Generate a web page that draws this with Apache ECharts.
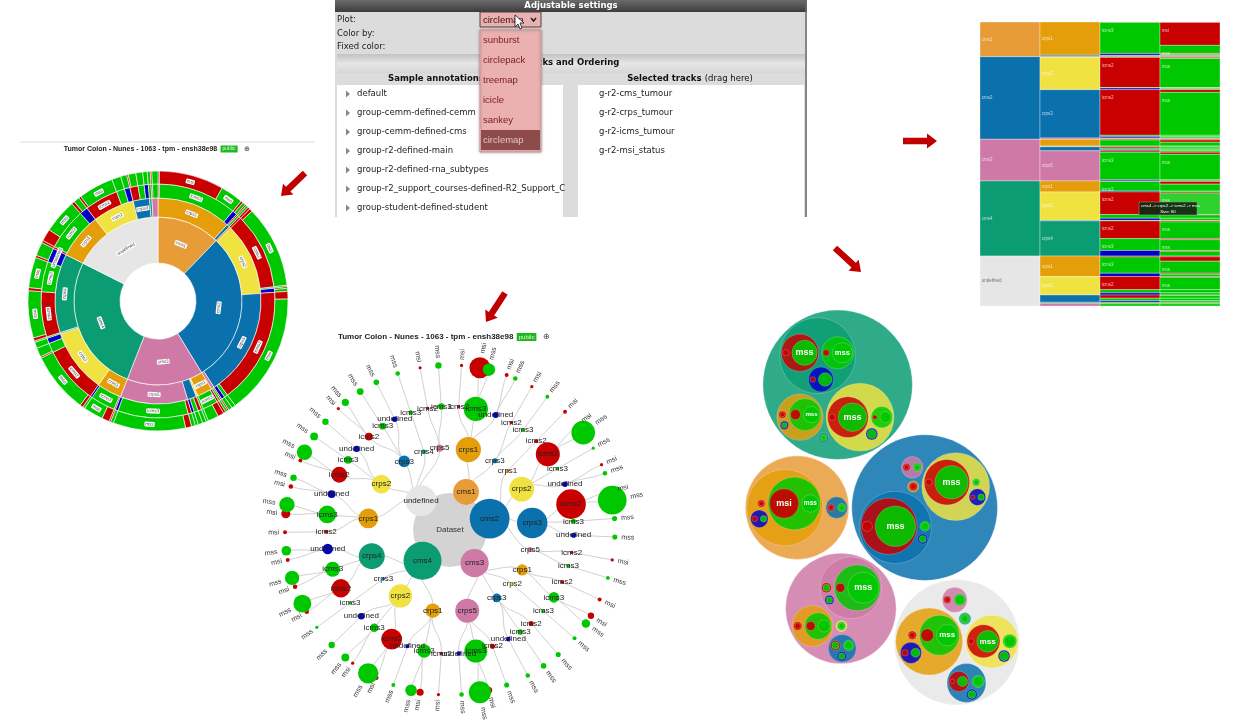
<!DOCTYPE html>
<html>
<head>
<meta charset="utf-8">
<script src="https://cdn.jsdelivr.net/npm/echarts@6/dist/echarts.min.js"></script>
<style>
  html, body { margin: 0; padding: 0; background: #fff; }
  #chart { width: 1254px; height: 727px; }
</style>
</head>
<body>
<div id="chart"></div>
<script>
/* 同一数据集的四种层级图 + 设置面板 */

// ---- data ----
var levelNames = ['cms', 'crps', 'icms', 'msi'];

var leafPaths = [
  'cms1/crps1/icms3/msi', 'cms1/crps1/icms3/mss', 'cms1/crps1/undefined/msi', 'cms1/crps1/undefined/mss',
  'cms1/crps1/icms2/msi', 'cms1/crps3/icms3/mss', 'cms1/crps3/icms2/msi',
  'cms2/crps2/icms2/mss', 'cms2/crps2/icms2/msi', 'cms2/crps2/undefined/mss', 'cms2/crps2/undefined/msi',
  'cms2/crps2/icms3/mss', 'cms2/crps3/icms2/mss', 'cms2/crps3/icms2/msi', 'cms2/crps3/icms3/mss',
  'cms2/crps3/undefined/mss', 'cms2/crps5/icms3/mss', 'cms2/crps5/icms2/msi', 'cms2/crps1/icms2/msi',
  'cms3/crps1/icms3/msi', 'cms3/crps1/icms3/mss', 'cms3/crps1/icms2/msi', 'cms3/crps3/icms2/mss',
  'cms3/crps3/icms3/mss', 'cms3/crps3/undefined/mss', 'cms3/crps5/icms3/mss', 'cms3/crps5/icms3/msi',
  'cms3/crps5/undefined/mss', 'cms3/crps5/icms2/mss', 'cms3/crps2/icms3/mss',
  'cms4/crps1/icms3/msi', 'cms4/crps1/icms3/mss', 'cms4/crps1/undefined/mss', 'cms4/crps1/icms2/msi',
  'cms4/crps2/icms2/mss', 'cms4/crps2/icms2/msi', 'cms4/crps2/icms3/mss', 'cms4/crps2/icms3/msi',
  'cms4/crps2/undefined/mss', 'cms4/crps4/icms2/mss', 'cms4/crps4/icms2/msi', 'cms4/crps4/icms3/mss',
  'cms4/crps4/icms3/msi', 'cms4/crps4/undefined/mss', 'cms4/crps4/undefined/msi', 'cms4/crps3/icms3/mss',
  'undefined/crps1/icms3/msi', 'undefined/crps1/icms3/mss', 'undefined/crps1/undefined/msi',
  'undefined/crps1/undefined/mss', 'undefined/crps1/icms2/msi', 'undefined/crps2/icms2/mss',
  'undefined/crps2/icms2/msi', 'undefined/crps2/icms3/mss', 'undefined/crps2/undefined/mss',
  'undefined/crps3/icms2/mss', 'undefined/crps3/icms2/msi', 'undefined/crps3/icms3/mss',
  'undefined/crps3/undefined/mss', 'undefined/crps5/icms3/mss', 'undefined/crps5/icms2/msi',
  'undefined/crps4/icms3/mss'
];
var leafCounts = [
  85, 30, 3, 4, 2, 3, 2,
  108, 4, 4, 2, 2, 160, 10, 5, 5, 3, 2, 3,
  8, 14, 3, 5, 6, 4, 95, 8, 4, 5, 3,
  10, 26, 3, 2, 80, 4, 12, 2, 8, 62, 4, 40, 4, 18, 3, 2,
  16, 45, 4, 8, 3, 46, 3, 12, 8, 10, 2, 9, 6, 8, 2, 4
];
var hoverPath = 'cms4/crps2/icms2/mss';

var plotTypes = ['sunburst', 'circlepack', 'treemap', 'icicle', 'sankey', 'circlemap'];
var annotationGroups = ['default', 'group-cemm-defined-cemm', 'group-cemm-defined-cms', 'group-r2-defined-main',
  'group-r2-defined-rna_subtypes', 'group-r2_support_courses-defined-R2_Support_C', 'group-student-defined-student'];
var selectedTracks = ['g-r2-cms_tumour', 'g-r2-crps_tumour', 'g-r2-icms_tumour', 'g-r2-msi_status'];
var titleText = 'Tumor Colon - Nunes - 1063 - tpm - ensh38e98';

var levelColors = [
  { cms1: '#E89C38', cms2: '#0A71AD', cms3: '#CE79A6', cms4: '#0C9C74', 'undefined': '#E6E6E6' },
  { crps1: '#E49E0A', crps2: '#EFE241', crps3: '#0A71AD', crps4: '#0C9C74', crps5: '#CE79A6' },
  { icms2: '#C80000', icms3: '#00C800', 'undefined': '#0000C8' },
  { msi: '#C80000', mss: '#00C800' }
];

// ---- hierarchy ----
function buildTree() {
  var root = { name: 'Dataset', value: 0, depth: 0, path: '', children: [] };
  for (var i = 0; i < leafPaths.length; i++) {
    var parts = leafPaths[i].split('/');
    var node = root;
    root.value += leafCounts[i];
    for (var d = 0; d < parts.length; d++) {
      var ch = null;
      for (var k = 0; k < node.children.length; k++) {
        if (node.children[k].name === parts[d]) ch = node.children[k];
      }
      if (!ch) {
        ch = { name: parts[d], value: 0, depth: d + 1, path: parts.slice(0, d + 1).join('/'), children: [] };
        node.children.push(ch);
      }
      ch.value += leafCounts[i];
      node = ch;
    }
  }
  // 按名称排序
  (function sortKids(n) {
    n.children.sort(function (a, b) { return a.name < b.name ? -1 : a.name > b.name ? 1 : 0; });
    n.children.forEach(sortKids);
  })(root);
  return root;
}
var root = buildTree();
function colorOf(n) { return n.depth === 0 ? '#D3D3D3' : levelColors[n.depth - 1][n.name]; }

function hexA(hex, a) {
  var v = parseInt(hex.slice(1), 16);
  return 'rgba(' + (v >> 16) + ',' + ((v >> 8) & 255) + ',' + (v & 255) + ',' + a + ')';
}

// sunburst
function toSun(n) {
  var o = { name: n.name, value: n.value, itemStyle: { color: colorOf(n) } };
  if (n.children.length) o.children = n.children.map(toSun);
  return o;
}
var sunData = root.children.map(toSun);

// radial tree
function toTree(n) {
  var o = {
    name: n.name, value: n.value,
    symbolSize: Math.max(3, 2.27 * Math.sqrt(n.value)),
    itemStyle: { color: colorOf(n), borderWidth: 0 }
  };
  if (n.children.length) {
    o.children = n.children.map(toTree);
    o.label = { position: 'inside', rotate: 0, fontSize: 8, color: '#222' };
  }
  return o;
}
var treeRoot = toTree(root);
treeRoot.label = { position: 'inside', rotate: 0, fontSize: 8, color: '#333' };

// icicle partition
var icicleItems = [];
var hoverSize = 0;
function partition(n, start) {
  var s = start;
  n.children.forEach(function (c) {
    var hov = c.path === hoverPath;
    if (hov) hoverSize = c.value;
    icicleItems.push({
      name: c.name,
      value: [c.depth - 1, s, s + c.value],
      itemStyle: { color: hov ? '#2ED12E' : colorOf(c) }
    });
    partition(c, s);
    s += c.value;
  });
}
partition(root, 0);

// circle packing (front-chain sibling packing)
var PAD = 0.9;
function place(b, a, c) {
  var dx = b.x - a.x, dy = b.y - a.y, d2 = dx * dx + dy * dy, x, y, a2, b2;
  if (d2) {
    a2 = a.r + c.r; a2 *= a2;
    b2 = b.r + c.r; b2 *= b2;
    if (a2 > b2) {
      x = (d2 + b2 - a2) / (2 * d2);
      y = Math.sqrt(Math.max(0, b2 / d2 - x * x));
      c.x = b.x - x * dx - y * dy;
      c.y = b.y - x * dy + y * dx;
    } else {
      x = (d2 + a2 - b2) / (2 * d2);
      y = Math.sqrt(Math.max(0, a2 / d2 - x * x));
      c.x = a.x + x * dx - y * dy;
      c.y = a.y + x * dy + y * dx;
    }
  } else {
    c.x = a.x + c.r; c.y = a.y;
  }
}
function intersects(a, b) {
  var dr = a.r + b.r - 1e-6, dx = b.x - a.x, dy = b.y - a.y;
  return dr > 0 && dr * dr > dx * dx + dy * dy;
}
function score(node) {
  var a = node._, b = node.next._, ab = a.r + b.r;
  var dx = (a.x * b.r + b.x * a.r) / ab, dy = (a.y * b.r + b.y * a.r) / ab;
  return dx * dx + dy * dy;
}
function placeSiblings(cs) {
  var n = cs.length, a, b, c, i, j, k, sj, sk, aa, ca;
  a = cs[0]; a.x = 0; a.y = 0;
  if (n < 2) return;
  b = cs[1]; a.x = -b.r; b.x = a.r; b.y = 0;
  if (n < 3) return;
  place(b, a, c = cs[2]);
  a = { _: a }; b = { _: b }; c = { _: c };
  a.next = c.previous = b;
  b.next = a.previous = c;
  c.next = b.previous = a;
  pack: for (i = 3; i < n; ++i) {
    place(a._, b._, c = cs[i]); c = { _: c };
    j = b.next; k = a.previous; sj = b._.r; sk = a._.r;
    do {
      if (sj <= sk) {
        if (intersects(j._, c._)) { b = j; a.next = b; b.previous = a; --i; continue pack; }
        sj += j._.r; j = j.next;
      } else {
        if (intersects(k._, c._)) { a = k; a.next = b; b.previous = a; --i; continue pack; }
        sk += k._.r; k = k.previous;
      }
    } while (j !== k.next);
    c.previous = a; c.next = b; a.next = b.previous = b = c;
    aa = score(a);
    while ((c = c.next) !== b) {
      if ((ca = score(c)) < aa) { a = c; aa = ca; }
    }
    b = a.next;
  }
}
function enclose(cs) {
  var minx = Infinity, maxx = -Infinity, miny = Infinity, maxy = -Infinity;
  cs.forEach(function (c) {
    minx = Math.min(minx, c.x - c.r); maxx = Math.max(maxx, c.x + c.r);
    miny = Math.min(miny, c.y - c.r); maxy = Math.max(maxy, c.y + c.r);
  });
  var cx = (minx + maxx) / 2, cy = (miny + maxy) / 2;
  var bx = cx, by = cy, bR = Infinity;
  for (var k = 0; k < 400; k++) {
    var far = null, fd = -1;
    cs.forEach(function (c) {
      var dd = Math.hypot(c.x - cx, c.y - cy) + c.r;
      if (dd > fd) { fd = dd; far = c; }
    });
    if (fd < bR) { bR = fd; bx = cx; by = cy; }
    var ld = Math.hypot(far.x - cx, far.y - cy) || 1;
    var fx = far.x + (far.x - cx) / ld * far.r, fy = far.y + (far.y - cy) / ld * far.r;
    cx += (fx - cx) / (k + 2); cy += (fy - cy) / (k + 2);
  }
  return { x: bx, y: by, r: bR };
}
function pack(n) {
  if (!n.children.length) { n.r = Math.sqrt(n.value); return; }
  n.children.forEach(pack);
  var cs = n.children.map(function (c) { return { r: c.r + PAD, node: c }; });
  placeSiblings(cs);
  var e = enclose(cs);
  cs.forEach(function (c) { c.node.dx = c.x - e.x; c.node.dy = c.y - e.y; });
  n.r = e.r;
}
pack(root);
var packItems = [];
function absPos(n, x, y) {
  n.children.forEach(function (c) {
    var cx = x + c.dx, cy = y + c.dy;
    packItems.push({ name: c.name, depth: c.depth, leaf: !c.children.length, color: colorOf(c), value: [cx, cy, c.r] });
    absPos(c, cx, cy);
  });
}
absPos(root, 0, 0);

// fit packed layout in its box with equal aspect
var PACK_BOX = { left: 735, top: 310, width: 295, height: 395 };
var bx0 = Infinity, bx1 = -Infinity, by0 = Infinity, by1 = -Infinity;
packItems.forEach(function (p) {
  if (p.depth !== 1) return;
  bx0 = Math.min(bx0, p.value[0] - p.value[2]); bx1 = Math.max(bx1, p.value[0] + p.value[2]);
  by0 = Math.min(by0, p.value[1] - p.value[2]); by1 = Math.max(by1, p.value[1] + p.value[2]);
});
var pScale = Math.min(PACK_BOX.width / (bx1 - bx0), PACK_BOX.height / (by1 - by0));
var pxr = PACK_BOX.width / pScale / 2, pyr = PACK_BOX.height / pScale / 2;
var pcx = (bx0 + bx1) / 2, pcy = (by0 + by1) / 2;

// ---- decorations ----
var UI = 'DejaVu Sans, Verdana, sans-serif';
function txt(x, y, s, font, fill, align) {
  return { type: 'text', x: x, y: y, z: 100,
    style: { text: s, font: font, fill: fill || '#222', align: align || 'left', verticalAlign: 'middle' } };
}
function arrow(x1, y1, x2, y2) {
  var dx = x2 - x1, dy = y2 - y1, L = Math.hypot(dx, dy), ux = dx / L, uy = dy / L, px = -uy, py = ux;
  var sw = 3.2, hw = 7.5, hl = 10, bx = x2 - ux * hl, by = y2 - uy * hl;
  return { type: 'polygon', z: 100, shape: { points: [
    [x1 + px * sw, y1 + py * sw], [bx + px * sw, by + py * sw], [bx + px * hw, by + py * hw], [x2, y2],
    [bx - px * hw, by - py * hw], [bx - px * sw, by - py * sw], [x1 - px * sw, y1 - py * sw]] },
    style: { fill: '#C00000' } };
}
function titleEl(x, y, size) {
  return { type: 'text', x: x, y: y, z: 100, style: {
    text: '{t|' + titleText + '} {b|public}  {i|⊕}', align: 'center', verticalAlign: 'middle',
    rich: {
      t: { font: 'bold ' + size + 'px Liberation Sans, Arial', fill: '#222' },
      b: { fontSize: size - 2, fontFamily: 'Liberation Sans', fill: '#dfd', backgroundColor: '#1EB81E', padding: [1, 2] },
      i: { fontSize: size, fill: '#333' }
    } } };
}

var graphics = [];
// settings panel
graphics.push({ type: 'rect', z: 90, shape: { x: 335, y: 0, width: 472, height: 12 },
  style: { fill: new echarts.graphic.LinearGradient(0, 0, 0, 1, [{ offset: 0, color: '#6b6b6b' }, { offset: 1, color: '#3c3c3c' }]) } });
graphics.push(txt(571, 6, 'Adjustable settings', 'bold 8.5px ' + UI, '#fff', 'center'));
graphics.push({ type: 'rect', z: 90, shape: { x: 335, y: 12, width: 472, height: 205 }, style: { fill: '#DCDCDC' } });
graphics.push({ type: 'line', z: 91, shape: { x1: 806, y1: 0, x2: 806, y2: 217 }, style: { stroke: '#6a6a6a', lineWidth: 1.5 } });
graphics.push(txt(337, 20, 'Plot:', '8.5px ' + UI));
graphics.push(txt(337, 34, 'Color by:', '8.5px ' + UI));
graphics.push(txt(337, 47, 'Fixed color:', '8.5px ' + UI));
graphics.push({ type: 'rect', z: 91, shape: { x: 337, y: 54, width: 468, height: 19 },
  style: { fill: new echarts.graphic.LinearGradient(0, 0, 0, 1, [{ offset: 0, color: '#c2c2c2' }, { offset: 0.5, color: '#e6e6e6' }, { offset: 1, color: '#d6d6d6' }]) } });
graphics.push(txt(571, 63, 'Tracks and Ordering', 'bold 8.5px ' + UI, '#111', 'center'));
graphics.push(txt(436, 79, 'Sample annotations', 'bold 8.5px ' + UI, '#111', 'center'));
graphics.push({ type: 'text', x: 690, y: 79, z: 100, style: {
  text: '{a|Selected tracks} {b|(drag here)}', align: 'center', verticalAlign: 'middle',
  rich: { a: { font: 'bold 8.5px ' + UI, fill: '#111' }, b: { font: '8.5px ' + UI, fill: '#111' } } } });
graphics.push({ type: 'rect', z: 92, shape: { x: 337, y: 85, width: 226, height: 132 }, style: { fill: '#fff' } });
graphics.push({ type: 'rect', z: 92, shape: { x: 578, y: 85, width: 226, height: 132 }, style: { fill: '#fff' } });
annotationGroups.forEach(function (g, i) {
  var y = 94 + i * 19;
  graphics.push({ type: 'polygon', z: 100, shape: { points: [[346, y - 3.5], [346, y + 3.5], [350, y]] }, style: { fill: '#888' } });
  graphics.push(txt(357, y, g, '8.5px ' + UI, '#222'));
});
selectedTracks.forEach(function (g, i) {
  graphics.push(txt(599, 94 + i * 19, g, '8.5px ' + UI, '#222'));
});
// select + open dropdown
graphics.push({ type: 'rect', z: 101, shape: { x: 480, y: 12, width: 61, height: 15 }, style: { fill: '#E9B2B2', stroke: '#5a3a3a', lineWidth: 1 } });
graphics.push(Object.assign(txt(483, 20, plotTypes[plotTypes.length - 1], '9.5px Liberation Sans, Arial', '#3a0a0a'), { z: 102 }));
graphics.push({ type: 'polyline', z: 102, shape: { points: [[531, 18], [533.5, 21], [536, 18]] }, style: { stroke: '#222', lineWidth: 1.5, fill: null } });
graphics.push({ type: 'polygon', z: 103, shape: { points: [[515, 15], [515, 27], [518, 24], [520, 29], [522, 28], [520, 23], [524, 23]] }, style: { fill: '#fff', stroke: '#111', lineWidth: 0.8 } });
graphics.push({ type: 'rect', z: 101, shape: { x: 480, y: 30, width: 61, height: 122 }, style: { fill: '#EBB1B1', stroke: '#c99', lineWidth: 1, shadowBlur: 3, shadowColor: 'rgba(0,0,0,0.3)' } });
plotTypes.forEach(function (p, i) {
  var y = 40 + i * 20, last = i === plotTypes.length - 1;
  if (last) graphics.push({ type: 'rect', z: 102, shape: { x: 481, y: y - 10, width: 59, height: 20 }, style: { fill: '#8E4B4B' } });
  graphics.push(Object.assign(txt(483, y, p, '9.5px Liberation Sans, Arial', last ? '#E6C2C2' : '#7A1A1A'), { z: 103 }));
});
// sunburst header + titles
graphics.push({ type: 'line', z: 100, shape: { x1: 20, y1: 142, x2: 315, y2: 142 }, style: { stroke: '#ddd', lineWidth: 1 } });
graphics.push(titleEl(157, 149, 7));
graphics.push(titleEl(444, 337, 8));
// arrows
graphics.push(arrow(305, 173, 281, 196));
graphics.push(arrow(505, 293, 486, 322));
graphics.push(arrow(903, 141, 937, 141));
graphics.push(arrow(835, 248, 861, 272));
// hover tooltip on the icicle
graphics.push({ type: 'rect', z: 110, shape: { x: 1139, y: 202, width: 58, height: 13 },
  style: { fill: 'rgba(18,40,18,0.93)', stroke: '#8a8', lineWidth: 0.5 } });
graphics.push(Object.assign(txt(1141, 205.5, hoverPath.split('/').join(' -> '), '4.3px Liberation Sans, Arial', '#fff'), { z: 111 }));
graphics.push(Object.assign(txt(1168, 211.5, 'Size: ' + hoverSize, '4.3px Liberation Sans, Arial', '#fff', 'center'), { z: 111 }));

// ---- chart ----
var chart = echarts.init(document.getElementById('chart'));
chart.setOption({
  animation: false,
  backgroundColor: '#fff',
  textStyle: { fontFamily: 'Liberation Sans, Arial, sans-serif' },
  graphic: graphics,
  grid: [
    { left: 980, top: 22, width: 240, height: 284 },
    PACK_BOX
  ],
  xAxis: [
    { type: 'category', gridIndex: 0, data: levelNames, show: false },
    { type: 'value', gridIndex: 1, min: pcx - pxr, max: pcx + pxr, show: false }
  ],
  yAxis: [
    { type: 'value', gridIndex: 0, min: 0, max: root.value, inverse: true, show: false },
    { type: 'value', gridIndex: 1, min: pcy - pyr, max: pcy + pyr, inverse: true, show: false }
  ],
  series: [
    {
      type: 'sunburst',
      center: [158, 301],
      radius: [38, 130],
      sort: null,
      nodeClick: false,
      data: sunData,
      itemStyle: { borderColor: '#fff', borderWidth: 0.6 },
      label: { fontSize: 4.5, color: '#444', backgroundColor: '#fff', padding: [0, 1], borderRadius: 1, rotate: 'tangential', minAngle: 7 },
      levels: [
        {},
        { r0: 38, r: 84 },
        { r0: 84, r: 103 },
        { r0: 103, r: 117 },
        { r0: 117, r: 130 }
      ]
    },
    {
      type: 'tree',
      layout: 'radial',
      data: [treeRoot],
      left: 285, top: 365, width: 330, height: 330,
      symbol: 'circle',
      initialTreeDepth: -1,
      expandAndCollapse: false,
      roam: false,
      lineStyle: { color: '#d0d0d0', width: 1, curveness: 0.5 },
      label: { fontSize: 7, color: '#333', distance: 4 },
      emphasis: { disabled: true }
    },
    {
      type: 'custom',
      xAxisIndex: 0, yAxisIndex: 0,
      data: icicleItems,
      renderItem: function (params, api) {
        var a = api.coord([api.value(0), api.value(1)]);
        var b = api.coord([api.value(0), api.value(2)]);
        var w = api.size([1, 0])[0];
        var h = b[1] - a[1];
        var it = icicleItems[params.dataIndex];
        var lvl = api.value(0);
        return {
          type: 'rect',
          shape: { x: a[0] - w / 2, y: a[1], width: w, height: h },
          style: { fill: api.visual('color'), stroke: 'rgba(255,255,255,0.55)', lineWidth: 0.6 },
          textContent: h > 8 ? { style: { text: it.name, fontSize: 4.5, fill: it.name === 'undefined' && lvl === 0 ? 'rgba(60,60,60,0.7)' : 'rgba(255,255,255,0.7)' } } : undefined,
          textConfig: { position: lvl < 2 ? 'insideLeft' : [2, 6], distance: 2 }
        };
      }
    },
    {
      type: 'custom',
      xAxisIndex: 1, yAxisIndex: 1,
      data: packItems.map(function (p) { return { name: p.name, value: p.value }; }),
      renderItem: function (params, api) {
        var p = packItems[params.dataIndex];
        var c = api.coord([api.value(0), api.value(1)]);
        var r = api.size([api.value(2), 0])[0];
        var showLabel = p.leaf && r > 7;
        return {
          type: 'circle',
          shape: { cx: c[0], cy: c[1], r: r },
          style: { fill: hexA(p.color, p.leaf ? 0.92 : 0.85), stroke: 'rgba(255,255,255,0.35)', lineWidth: p.depth === 1 ? 1 : 0.6 },
          textContent: showLabel ? { style: { text: p.name, font: 'bold ' + Math.min(9, r * 0.75).toFixed(1) + 'px Liberation Sans, Arial', fill: '#fff' } } : undefined,
          textConfig: { position: 'inside' }
        };
      }
    }
  ]
});
</script>
</body>
</html>
